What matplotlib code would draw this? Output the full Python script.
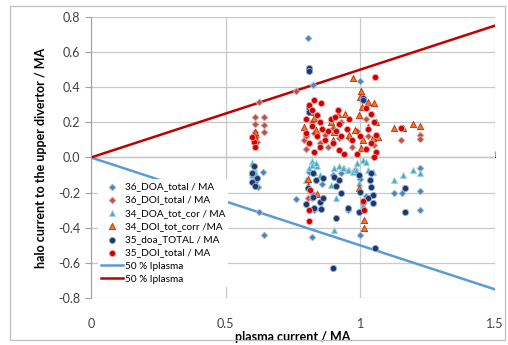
import matplotlib
matplotlib.use("Agg")
import matplotlib.pyplot as plt
from matplotlib.patches import Rectangle

plt.rcParams['font.family'] = ['Lato', 'DejaVu Sans']

# ---- data ----
doa36_x = [0.60, 0.61, 0.62, 0.64, 0.625, 0.643, 0.76, 0.806, 0.825, 0.81, 0.82, 0.83,
           0.82, 0.86, 0.90, 0.93, 0.955, 0.98, 1.00, 1.00, 1.00, 1.02, 1.04, 1.126,
           1.155, 1.223, 1.223, 1.223]
doa36_y = [-0.10, -0.14, -0.17, -0.08, -0.31, -0.44, -0.235, 0.68, 0.41, -0.08, -0.20, -0.30,
           -0.45, -0.15, -0.10, -0.09, -0.30, -0.07, 0.435, -0.12, -0.44, -0.22, -0.09, -0.20,
           -0.20, -0.06, -0.19, -0.30]

doi36_x = [0.625, 0.61, 0.643, 0.61, 0.643, 0.61, 0.643, 0.612, 0.615, 0.762, 0.79, 0.80,
           0.80, 0.82, 0.83, 0.85, 0.87, 0.88, 0.90, 0.92, 0.93, 0.96, 0.97, 0.99,
           1.02, 1.03, 1.05, 1.15, 1.223, 1.223, 0.805, 0.82]
doi36_y = [0.316, 0.23, 0.23, 0.19, 0.185, 0.145, 0.145, 0.115, 0.09, 0.38, 0.10, 0.12,
           0.05, 0.20, 0.14, 0.08, 0.13, 0.06, 0.17, 0.11, 0.20, 0.11, 0.06, 0.15,
           0.22, 0.12, 0.07, 0.10, 0.13, 0.105, -0.23, -0.23]

doa34_x = [0.60, 0.605, 0.61, 0.60, 0.82, 0.82, 0.81, 0.84, 0.83, 0.85, 0.80, 0.836,
           0.904, 0.92, 0.94, 0.96, 0.89, 0.91, 0.904, 0.937, 0.955, 0.975,
           0.99, 1.01, 1.02, 0.985, 1.03, 1.048, 0.997, 1.01,
           1.126, 1.16, 1.197, 1.223]
doa34_y = [-0.03, -0.06, -0.08, -0.10, -0.02, -0.04, -0.06, -0.05, -0.08, -0.10, -0.13, -0.03,
           -0.06, -0.05, -0.06, -0.07, -0.156, -0.23, -0.41, -0.06, -0.07, -0.08,
           -0.03, -0.015, -0.025, -0.07, -0.07, -0.08, -0.145, -0.27,
           -0.13, -0.10, -0.07, -0.09]

doi34_x = [0.973, 1.004, 1.053, 1.028, 0.942, 0.917, 0.892, 1.0, 1.006, 0.997, 1.06, 1.066,
           0.98, 0.818, 0.83, 0.792, 0.836, 0.904, 0.898, 0.96, 1.028, 1.01, 1.047, 1.004,
           0.61, 0.605, 1.126, 1.16, 1.197, 1.223,
           0.805, 0.805, 0.84, 0.997, 1.015, 1.015]
doi34_y = [0.45, 0.38, 0.31, 0.318, 0.25, 0.248, 0.204, 0.346, 0.29, 0.242, 0.204, 0.118,
           0.157, 0.26, 0.225, 0.175, 0.157, 0.147, 0.10, 0.128, 0.175, 0.10, 0.11, 0.054,
           0.145, 0.12, 0.17, 0.17, 0.19, 0.18,
           -0.12, -0.16, -0.21, -0.175, -0.40, -0.355]

doa35_x = [0.605, 0.60, 0.615, 0.60, 0.61, 0.824, 0.836, 0.861, 0.805, 0.824, 0.849, 0.861,
           0.80, 0.83, 0.855, 0.904, 0.923, 0.91, 0.929, 0.91, 0.954, 0.997, 1.01, 1.035,
           1.04, 1.047, 1.028, 1.047, 1.0, 1.04, 0.997, 1.165, 1.165,
           0.90, 1.055, 0.81, 0.81, 1.01, 1.01, 0.81, 0.81]
doa35_y = [-0.05, -0.09, -0.115, -0.14, -0.165, -0.09, -0.128, -0.119, -0.175, -0.223, -0.252, -0.229,
           -0.265, -0.29, -0.293, -0.109, -0.128, -0.16, -0.204, -0.346, -0.29, -0.309, -0.252, -0.128,
           -0.166, -0.214, -0.232, -0.261, -0.198, -0.09, -0.10, -0.175, -0.31,
           -0.63, -0.515, 0.51, 0.49, 0.34, 0.325, 0.28, 0.26]

doi35_x = [0.605, 0.61, 0.60, 0.83, 0.855, 0.81, 0.82, 0.84, 0.80, 0.85, 0.82, 0.86,
           0.80, 0.84, 0.87, 0.81, 0.85, 0.83, 0.88, 0.89, 0.917, 0.905, 0.92, 0.91,
           0.93, 0.90, 0.92, 0.96, 0.95, 0.97, 0.94, 1.055, 1.02, 1.04, 1.05, 1.03,
           1.06, 1.00, 1.04, 1.02, 1.06, 0.99, 1.05, 1.15,
           0.815, 0.81, 0.81, 1.014, 1.01]
doi35_y = [0.09, 0.06, 0.115, 0.33, 0.31, 0.30, 0.27, 0.24, 0.22, 0.20, 0.18, 0.16,
           0.14, 0.12, 0.10, 0.08, 0.06, 0.03, 0.15, 0.22, 0.27, 0.23, 0.19, 0.15,
           0.12, 0.08, 0.04, 0.22, 0.16, 0.10, 0.02, 0.46, 0.28, 0.25, 0.20, 0.16,
           0.13, 0.12, 0.08, 0.05, 0.03, 0.02, 0.0, 0.17,
           -0.185, -0.30, -0.36, -0.30, -0.25]

line_x = [0.0, 1.5]
neg_line_y = [0.0, -0.75]
pos_line_y = [0.0, 0.75]

xticks = [0, 0.5, 1, 1.5]
yticks = [-0.8, -0.6, -0.4, -0.2, 0.0, 0.2, 0.4, 0.6, 0.8]

fig = plt.figure(figsize=(5.08, 3.45), dpi=100)
ax = fig.add_axes([0.179, 0.136, 0.795, 0.815])

# 50 % lines
l1, = ax.plot(line_x, neg_line_y, color='#5B9BD5', lw=1.8, zorder=2)
l2, = ax.plot(line_x, pos_line_y, color='#C00000', lw=1.8, zorder=2)

ms = 20
s1 = ax.scatter(doa36_x, doa36_y, marker='D', s=12, c='#4F81BD', edgecolors='#A9C1E3', linewidths=0.6, zorder=3)
s2 = ax.scatter(doi36_x, doi36_y, marker='D', s=12, c='#B8504B', edgecolors='#E0A9A6', linewidths=0.6, zorder=3)
s3 = ax.scatter(doa34_x, doa34_y, marker='^', s=ms, c='#4BACC6', edgecolors='#A5D5E2', linewidths=0.6, zorder=3)
s4 = ax.scatter(doi34_x, doi34_y, marker='^', s=ms, c='#F07A1A', edgecolors='#D02010', linewidths=0.6, zorder=3)
s5 = ax.scatter(doa35_x, doa35_y, marker='o', s=ms, c='#1F3864', edgecolors='#8EA9DB', linewidths=0.6, zorder=3)
s6 = ax.scatter(doi35_x, doi35_y, marker='o', s=ms, c='#D00000', edgecolors='#F0A0A0', linewidths=0.6, zorder=3)

ax.set_xlim(0, 1.5)
ax.set_ylim(-0.8, 0.8)
ax.set_xticks(xticks)
ax.set_xticklabels(['0', '0.5', '1', '1.5'])
ax.set_yticks(yticks)
ax.set_yticklabels(['%.1f' % v for v in yticks])
ax.grid(True, color='#C8C8C8', lw=0.9, zorder=0)
ax.set_axisbelow(True)

for sp in ['top', 'right', 'bottom']:
    ax.spines[sp].set_visible(False)
ax.spines['left'].set_color('#A0A0A0')
ax.tick_params(axis='x', length=0, pad=14, labelsize=9, colors='#404040')
ax.tick_params(axis='y', length=4, color='#A0A0A0', labelsize=9, labelcolor='#404040')

# x axis crossing at y = 0 (no labels there)
sec = ax.secondary_xaxis(0.5)
sec.set_xticks(xticks)
sec.set_xticklabels([])
sec.tick_params(length=4, color='#A0A0A0', direction='out')
sec.spines['bottom'].set_color('#A0A0A0')
sec.spines['bottom'].set_linewidth(1.2)

ax.set_xlabel('plasma current / MA', fontsize=9, fontweight='bold', labelpad=1)
ax.set_ylabel('halo current to the upper divertor / MA', fontsize=9, fontweight='bold', labelpad=8)

handles = [s1, s2, s3, s4, s5, s6, l1, l2]
labels = ['36_DOA_total / MA', '36_DOI_total / MA', '34_DOA_tot_cor / MA', '34_DOI_tot_corr /MA',
          '35_doa_TOTAL / MA', '35_DOI_total / MA', '50 % Iplasma', '50 % Iplasma']
leg = ax.legend(handles, labels, loc='upper left', bbox_to_anchor=(0.005, 0.44), fontsize=7.2,
                frameon=True, handlelength=2.2, labelspacing=0.42, borderpad=0.3,
                handletextpad=0.2, scatterpoints=1)
leg.get_frame().set_edgecolor('none')
leg.get_frame().set_facecolor('white')
leg.get_frame().set_alpha(1)
leg.set_zorder(5)

fig.patches.append(Rectangle((0.02, 0.015), 0.975, 0.968, transform=fig.transFigure,
                             fill=False, edgecolor='#BFBFBF', lw=0.9))

fig.savefig('out.png', dpi=100)
